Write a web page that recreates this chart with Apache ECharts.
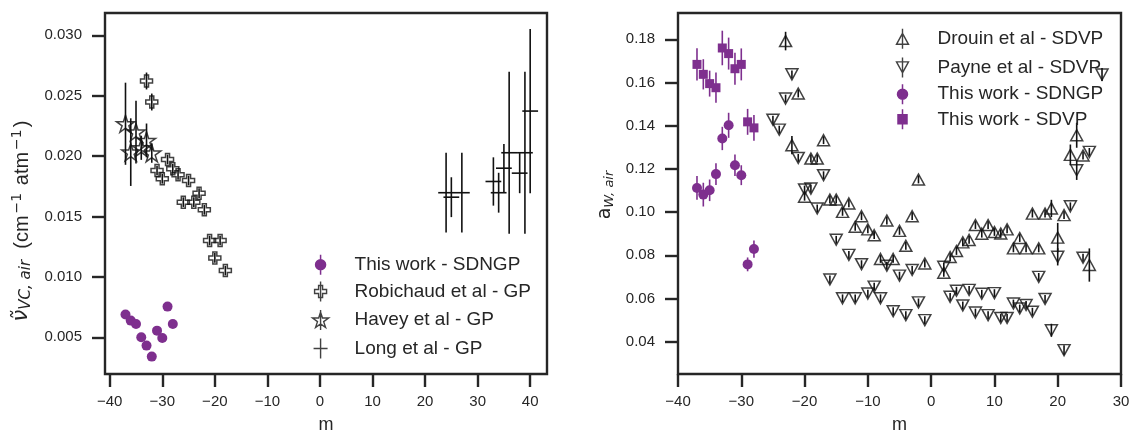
<!DOCTYPE html>
<html><head><meta charset="utf-8">
<script src="https://cdn.jsdelivr.net/npm/echarts@6/dist/echarts.min.js"></script>
<style>html,body{margin:0;padding:0;background:#fff;}#c{width:1129px;height:431px;}</style>
</head><body><div id="c"></div>
<script>
// ---------- Left panel: nu_VC,air ----------
const xTicksLeft = [-40, -30, -20, -10, 0, 10, 20, 30, 40];
const yTicksLeft = [0.005, 0.010, 0.015, 0.020, 0.025, 0.030];

const sdngpLeftM = [-37, -36, -35, -34, -33, -32, -31, -30, -29, -28];
const sdngpLeftV = [0.00688, 0.00638, 0.0061, 0.0050, 0.00431, 0.0034, 0.00555, 0.00494, 0.00754, 0.0061];

const robM = [-33, -32, -31, -30, -29, -28, -27, -26, -25, -24, -23, -22, -21, -20, -19, -18];
const robV = [0.02622, 0.02448, 0.01881, 0.01812, 0.01972, 0.01895, 0.01845, 0.01619, 0.01798, 0.01619, 0.01693, 0.01555, 0.01301, 0.01157, 0.01301, 0.01052];
const robErr = [0.0007, 0.0007, 0.0004, 0.0004, 0.0004, 0.0004, 0.0004, 0.0004, 0.0004, 0.0004, 0.0004, 0.0004, 0.0004, 0.0004, 0.0004, 0.0004];

const haveyM = [-37, -36, -35, -34, -33, -32];
const haveyV = [0.02268, 0.02033, 0.02199, 0.02069, 0.0213, 0.02025];
const haveyErr = [0.0034, 0.0028, 0.0026, 0.0010, 0.0014, 0.0008];

const longM = [24, 25, 27, 33, 34, 35, 36, 38, 39, 40];
const longV = [0.01697, 0.0166, 0.01697, 0.0179, 0.01697, 0.0190, 0.02028, 0.01859, 0.02028, 0.02373];
const longErrV = [0.0033, 0.00165, 0.0033, 0.0020, 0.00165, 0.0020, 0.0067, 0.00166, 0.0067, 0.0068];
const longErrM = [1.5, 1.5, 1.5, 1.5, 1.5, 1.5, 1.5, 1.5, 1.5, 1.5];

// ---------- Right panel: a_W,air ----------
const xTicksRight = [-40, -30, -20, -10, 0, 10, 20, 30];
const yTicksRight = [0.04, 0.06, 0.08, 0.10, 0.12, 0.14, 0.16, 0.18];

const drouinM = [-23, -22, -21, -20, -19, -18, -17, -16, -15, -14, -13, -12, -11, -10, -9, -8, -7, -6, -5, -4, -3, -2, -1,
  2, 3, 4, 5, 6, 7, 8, 9, 10, 11, 12, 13, 14, 15, 16, 17, 18, 19, 20, 21, 22, 23, 24, 25];
const drouinV = [0.1792, 0.131, 0.1549, 0.1071, 0.1248, 0.1248, 0.1333, 0.1058, 0.1058, 0.1001, 0.104, 0.0932, 0.0981, 0.092, 0.0893, 0.0783, 0.0961, 0.0783, 0.0913, 0.0844, 0.0981, 0.1151, 0.0762,
  0.0719, 0.0792, 0.0820, 0.0860, 0.0871, 0.0940, 0.0900, 0.0940, 0.0908, 0.0901, 0.0920, 0.0832, 0.0880, 0.0832, 0.0993, 0.0832, 0.0993, 0.1017, 0.0882, 0.0986, 0.1265, 0.1356, 0.1262, 0.0755];
const drouinErr = [0.0043, 0.0042, 0.0018, 0.0018, 0.0018, 0.0018, 0.0018, 0.0018, 0.0018, 0.0018, 0.0018, 0.0018, 0.0018, 0.0018, 0.0018, 0.0018, 0.0018, 0.0018, 0.0018, 0.0018, 0.0018, 0.0018, 0.0018,
  0.0018, 0.0018, 0.0018, 0.0018, 0.0018, 0.0018, 0.0018, 0.0018, 0.0018, 0.0018, 0.0018, 0.0018, 0.0018, 0.0018, 0.0018, 0.0018, 0.0018, 0.004, 0.0068, 0.0018, 0.0048, 0.0058, 0.0018, 0.0077];

const payneM = [-25, -24, -23, -22, -21, -20, -19, -18, -17, -16, -15, -14, -13, -12, -11, -10, -9, -8, -7, -6, -5, -4, -3, -2, -1,
  2, 3, 4, 5, 6, 7, 8, 9, 10, 11, 12, 13, 14, 15, 16, 17, 18, 19, 20, 21, 22, 23, 24, 25, 27];
const payneV = [0.1428, 0.1382, 0.1526, 0.1638, 0.1251, 0.1105, 0.1109, 0.1017, 0.1171, 0.0688, 0.0872, 0.0601, 0.0802, 0.0601, 0.0759, 0.0623, 0.0655, 0.0601, 0.0752, 0.0541, 0.0706, 0.0523, 0.0732, 0.0582, 0.0500,
  0.0747, 0.0608, 0.0636, 0.0568, 0.0640, 0.0535, 0.0622, 0.0523, 0.0625, 0.0510, 0.0510, 0.0577, 0.0554, 0.0570, 0.0539, 0.0700, 0.0598, 0.0453, 0.0793, 0.0361, 0.1027, 0.1194, 0.0789, 0.1279, 0.1637];
const payneErr = [0.0018, 0.0018, 0.0018, 0.0018, 0.0018, 0.0018, 0.0018, 0.0018, 0.0018, 0.0018, 0.0018, 0.0018, 0.0018, 0.0018, 0.0018, 0.0018, 0.0018, 0.0018, 0.0018, 0.0018, 0.0018, 0.0018, 0.0018, 0.0018, 0.0018,
  0.0018, 0.0018, 0.0018, 0.0018, 0.0018, 0.0018, 0.0018, 0.0018, 0.0018, 0.0018, 0.0018, 0.0018, 0.0018, 0.0018, 0.0018, 0.0018, 0.0018, 0.003, 0.004, 0.0022, 0.0018, 0.0045, 0.0018, 0.0018, 0.003];

const sdngpRightM = [-37, -36, -35, -34, -33, -32, -31, -30, -29, -28];
const sdngpRightV = [0.1112, 0.1081, 0.1101, 0.1176, 0.1341, 0.1402, 0.1217, 0.1171, 0.0758, 0.0829];
const sdngpRightErr = [0.0055, 0.0055, 0.005, 0.005, 0.0054, 0.0058, 0.005, 0.0046, 0.0032, 0.004];

const sdvpRightM = [-37, -36, -35, -34, -33, -32, -31, -30, -29, -28];
const sdvpRightV = [0.1684, 0.1638, 0.1595, 0.1576, 0.1760, 0.1734, 0.1664, 0.1684, 0.1418, 0.1390];
const sdvpRightErr = [0.0075, 0.007, 0.006, 0.007, 0.008, 0.0074, 0.0074, 0.0074, 0.006, 0.006];

// ---------- styling ----------
const PURPLE = '#7e2f8e';
const INK = '#262626';
const BLACK = '#111111';
const FONT = 'Liberation Sans';
const MATH = 'DejaVu Sans';

function starPath(cx, cy, R, r) {
  let d = '';
  for (let k = 0; k < 10; k++) {
    const rad = k % 2 === 0 ? R : r;
    const ang = -Math.PI / 2 + k * Math.PI / 5;
    d += (k === 0 ? 'M' : 'L') + (cx + rad * Math.cos(ang)).toFixed(2) + ',' + (cy + rad * Math.sin(ang)).toFixed(2);
  }
  return d + 'Z';
}
const SYM_PLUS = 'path://M-1,-3L1,-3L1,-1L3,-1L3,1L1,1L1,3L-1,3L-1,1L-3,1L-3,-1L-1,-1Z';
const SYM_STAR = 'path://' + starPath(0, 0, 1, 0.382);
const SYM_TUP = 'path://M0,-1L1,1L-1,1Z';
const SYM_TDN = 'path://M0,1L1,-1L-1,-1Z';

const ICON_CIRC = 'path://M12,0L12,20M17,10A5,5,0,1,1,7,10A5,5,0,1,1,17,10Z';
const ICON_SQ = 'path://M12,0L12,20M7.5,5.5L16.5,5.5L16.5,14.5L7.5,14.5Z';
const ICON_PLUS = 'path://M12,0L12,20M10,4L14,4L14,8L18,8L18,12L14,12L14,16L10,16L10,12L6,12L6,8L10,8Z';
const ICON_STAR = 'path://M12,0L12,20' + starPath(12, 10.6, 8.5, 3.25);
const ICON_LONG = 'path://M12,0L12,20M5,10L19,10';
const ICON_TUP = 'path://M12,0L12,20M12,4.5L18,15.5L6,15.5Z';
const ICON_TDN = 'path://M12,0L12,20M12,15.5L18,4.5L6,4.5Z';

function errSeries(id, xs, ys, errs, xerrs, color, idx) {
  return {
    type: 'custom', name: 'err-' + id, xAxisIndex: idx, yAxisIndex: idx,
    data: xs.map((x, i) => [x, ys[i], errs[i], xerrs ? xerrs[i] : 0]),
    encode: { x: 0, y: 1 }, clip: true, silent: true, z: 2,
    renderItem: function (params, api) {
      const x = api.value(0), y = api.value(1), e = api.value(2), xe = api.value(3);
      const ch = [];
      if (e > 0) {
        const a = api.coord([x, y - e]), b = api.coord([x, y + e]);
        ch.push({ type: 'line', shape: { x1: a[0], y1: a[1], x2: b[0], y2: b[1] }, style: { stroke: color, lineWidth: 1.6 } });
      }
      if (xe > 0) {
        const a = api.coord([x - xe, y]), b = api.coord([x + xe, y]);
        ch.push({ type: 'line', shape: { x1: a[0], y1: a[1], x2: b[0], y2: b[1] }, style: { stroke: color, lineWidth: 1.6 } });
      }
      return { type: 'group', children: ch };
    }
  };
}
function pts(xs, ys) { return xs.map((x, i) => [x, ys[i]]); }
function hollow(name, xs, ys, sym, size, idx) {
  return { type: 'scatter', name: name, xAxisIndex: idx, yAxisIndex: idx, data: pts(xs, ys),
    symbol: sym, symbolSize: size, symbolKeepAspect: true, z: 3, silent: true,
    itemStyle: { color: 'rgba(0,0,0,0)', borderColor: BLACK, borderWidth: 1.5 } };
}
function filled(name, xs, ys, sym, size, idx) {
  return { type: 'scatter', name: name, xAxisIndex: idx, yAxisIndex: idx, data: pts(xs, ys),
    symbol: sym, symbolSize: size, z: 4, silent: true,
    itemStyle: { color: PURPLE, opacity: 1 } };
}

function xAxisCfg(idx, min, max, ticks) {
  return {
    type: 'value', gridIndex: idx, min: min, max: max, position: 'bottom',
    name: 'm', nameLocation: 'middle', nameGap: 42,
    nameTextStyle: { fontSize: 18, color: INK, fontFamily: FONT },
    axisLine: { show: false, onZero: false },
    splitLine: { show: false },
    axisTick: { show: true, customValues: ticks, length: 13, lineStyle: { color: INK, width: 2.4 } },
    axisLabel: { customValues: ticks, margin: 20, fontSize: 15, color: INK, fontFamily: FONT,
      formatter: v => String(v).replace('-', '\u2212') }
  };
}
function yAxisCfg(idx, min, max, ticks, dec) {
  return {
    type: 'value', gridIndex: idx, min: min, max: max, position: 'left',
    axisLine: { show: false, onZero: false },
    splitLine: { show: false },
    axisTick: { show: true, customValues: ticks, length: 13, lineStyle: { color: INK, width: 2.4 } },
    axisLabel: { customValues: ticks, margin: 23, fontSize: 15, color: INK, fontFamily: FONT,
      formatter: v => v.toFixed(dec) }
  };
}

const legendText = { fontSize: 19, lineHeight: 20, color: INK, fontFamily: FONT };
const hollowLegend = { color: 'none', borderColor: BLACK, borderWidth: 1.4 };
const purpleLegend = { color: PURPLE, borderColor: PURPLE, borderWidth: 1.5 };

const chart = echarts.init(document.getElementById('c'), null, { renderer: 'canvas' });
chart.setOption({
  animation: false,
  backgroundColor: '#ffffff',
  grid: [
    { left: 105, top: 13, width: 442, height: 361, show: true, borderColor: INK, borderWidth: 2.4, backgroundColor: 'transparent', outerBoundsMode: 'none' },
    { left: 678, top: 13, width: 443, height: 361, show: true, borderColor: INK, borderWidth: 2.4, backgroundColor: 'transparent', outerBoundsMode: 'none' }
  ],
  xAxis: [xAxisCfg(0, -40.9, 43.2, xTicksLeft), xAxisCfg(1, -40, 30, xTicksRight)],
  yAxis: [yAxisCfg(0, 0.00196, 0.03185, yTicksLeft, 3), yAxisCfg(1, 0.02504, 0.1922, yTicksRight, 2)],
  legend: [
    { left: 310, top: 254, padding: 0, orient: 'vertical', itemWidth: 58, itemHeight: 20, itemGap: 3.5, selectedMode: false, textStyle: legendText,
      data: [
        { name: 'This work - SDNGP', icon: ICON_CIRC, itemStyle: purpleLegend },
        { name: 'Robichaud et al - GP', icon: ICON_PLUS, itemStyle: hollowLegend },
        { name: 'Havey et al - GP', icon: ICON_STAR, itemStyle: hollowLegend },
        { name: 'Long et al - GP', icon: ICON_LONG, itemStyle: hollowLegend }
      ] },
    { left: 894, top: 26.3, padding: 0, orient: 'vertical', itemWidth: 60, itemHeight: 20, itemGap: 3.6, selectedMode: false, textStyle: legendText,
      data: [
        { name: 'Drouin et al - SDVP', icon: ICON_TUP, itemStyle: hollowLegend },
        { name: 'Payne et al - SDVP', icon: ICON_TDN, itemStyle: hollowLegend },
        { name: 'This work - SDNGP', icon: ICON_CIRC, itemStyle: purpleLegend },
        { name: 'This work - SDVP', icon: ICON_SQ, itemStyle: purpleLegend }
      ] }
  ],
  graphic: [
    { type: 'text', x: 22, y: 221, rotation: Math.PI / 2, silent: true,
      style: { text: '{nu|\u03bd\u0303}{sub|VC, air}{n|  (cm}{sup|\u22121}{n| atm}{sup|\u22121}{n|)}',
        align: 'center', verticalAlign: 'middle', fill: INK,
        rich: {
          nu: { fontSize: 21, fontStyle: 'italic', fontFamily: MATH, lineHeight: 24, fill: INK },
          sub: { fontSize: 15, fontStyle: 'italic', fontFamily: MATH, lineHeight: 15, verticalAlign: 'bottom', fill: INK },
          n: { fontSize: 20, fontFamily: FONT, lineHeight: 24, fill: INK },
          sup: { fontSize: 14, fontFamily: MATH, lineHeight: 14, verticalAlign: 'top', padding: [0, 2, 0, 2], fill: INK }
        } } },
    { type: 'text', x: 605, y: 195, rotation: Math.PI / 2, silent: true,
      style: { text: '{n|a}{sub|W, air}', align: 'center', verticalAlign: 'middle', fill: INK,
        rich: {
          n: { fontSize: 19, fontFamily: MATH, lineHeight: 22, fill: INK },
          sub: { fontSize: 13, fontStyle: 'italic', fontFamily: MATH, lineHeight: 13, verticalAlign: 'bottom', fill: INK }
        } } }
  ],
  series: [
    errSeries('rob', robM, robV, robErr, null, BLACK, 0),
    hollow('Robichaud et al - GP', robM, robV, SYM_PLUS, 12, 0),
    errSeries('havey', haveyM, haveyV, haveyErr, null, BLACK, 0),
    hollow('Havey et al - GP', haveyM, haveyV, SYM_STAR, 18, 0),
    errSeries('long', longM, longV, longErrV, longErrM, BLACK, 0),
    { type: 'scatter', name: 'Long et al - GP', xAxisIndex: 0, yAxisIndex: 0, data: pts(longM, longV), symbol: 'none', symbolSize: 0, silent: true,
      itemStyle: { color: BLACK } },
    filled('This work - SDNGP', sdngpLeftM, sdngpLeftV, 'circle', 10, 0),

    errSeries('drouin', drouinM, drouinV, drouinErr, null, BLACK, 1),
    hollow('Drouin et al - SDVP', drouinM, drouinV, SYM_TUP, [12, 11], 1),
    errSeries('payne', payneM, payneV, payneErr, null, BLACK, 1),
    hollow('Payne et al - SDVP', payneM, payneV, SYM_TDN, [12, 11], 1),
    errSeries('sdngpR', sdngpRightM, sdngpRightV, sdngpRightErr, null, PURPLE, 1),
    filled('This work - SDNGP', sdngpRightM, sdngpRightV, 'circle', 10, 1),
    errSeries('sdvpR', sdvpRightM, sdvpRightV, sdvpRightErr, null, PURPLE, 1),
    filled('This work - SDVP', sdvpRightM, sdvpRightV, 'rect', 9, 1)
  ]
});
</script>
</body></html>
